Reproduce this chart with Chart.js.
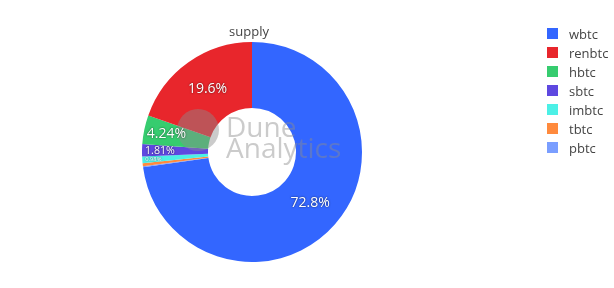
<!DOCTYPE html>
<html>
<head>
<meta charset="utf-8">
<script src="https://cdn.jsdelivr.net/npm/chart.js@4.4.0/dist/chart.umd.min.js"></script>
<style>
  html, body { margin: 0; padding: 0; background: #fff; }
  #wrap { position: relative; width: 614px; height: 288px; }
  #legend { position: absolute; left: 547px; top: 24px; font: 13px "Open Sans", sans-serif; color: #444; }
  .item { height: 19px; display: flex; align-items: center; }
  .sw { width: 11px; height: 11px; margin-right: 11px; }
</style>
</head>
<body>
<div id="wrap">
  <canvas id="chart" width="614" height="288"></canvas>
  <div id="legend"></div>
</div>
<script>
// Token supply shares (percent)
const tokens = ['wbtc', 'renbtc', 'hbtc', 'sbtc', 'imbtc', 'tbtc', 'pbtc'];
const supply = [72.8, 19.6, 4.24, 1.81, 0.98, 0.42, 0.15];
const colors = ['#3366ff', '#e8262c', '#36cc6f', '#5e48e0', '#4cf0e6', '#ff8a3d', '#7a9eff'];

// the reference runs counter-clockwise; Chart.js draws clockwise, so flip the tail
const order = [0, ...tokens.map((t, i) => i).slice(1).reverse()];

// legend
const legend = document.getElementById('legend');
tokens.forEach((t, i) => {
  legend.innerHTML += `<div class="item"><span class="sw" style="background:${colors[i]}"></span>${t}</div>`;
});

const total = supply.reduce((a, b) => a + b, 0);

const extras = {
  id: 'extras',
  afterDatasetsDraw(chart) {
    const ctx = chart.ctx;
    const arcs = chart.getDatasetMeta(0).data;
    const cx = arcs[0].x, cy = arcs[0].y;

    // title
    ctx.save();
    ctx.fillStyle = '#444';
    ctx.font = '13px "Open Sans", sans-serif';
    ctx.textAlign = 'center';
    ctx.textBaseline = 'middle';
    ctx.fillText('supply', cx - 3, 32);
    ctx.restore();

    // watermark
    ctx.save();
    ctx.globalAlpha = 0.45;
    ctx.fillStyle = '#8c8c8c';
    ctx.beginPath();
    ctx.arc(cx - 54, cy - 22, 21, 0, Math.PI * 2);
    ctx.fill();
    ctx.font = '28px "Open Sans", sans-serif';
    ctx.textBaseline = 'alphabetic';
    ctx.fillText('Dune', cx - 26, cy - 15);
    ctx.fillText('Analytics', cx - 26, cy + 6);
    ctx.restore();

    // percent labels
    arcs.forEach((arc, k) => {
      const v = supply[order[k]];
      const pct = v / total * 100;
      const txt = pct >= 10 ? pct.toFixed(1) + '%' : pct.toFixed(2) + '%';
      const span = arc.endAngle - arc.startAngle;
      const mid = (arc.startAngle + arc.endAngle) / 2;
      let size = 14;
      let r = (arc.innerRadius + arc.outerRadius) / 2;
      if (span < Math.PI / 6) {
        size = Math.min(14, span * arc.outerRadius * 0.85);
        if (size < 4) return;
        ctx.font = size + 'px "Open Sans", sans-serif';
        const tw = ctx.measureText(txt).width;
        r = arc.outerRadius - tw / 2 - 3;
      }
      ctx.save();
      ctx.font = size + 'px "Open Sans", sans-serif';
      ctx.fillStyle = '#fff';
      ctx.textAlign = 'center';
      ctx.textBaseline = 'middle';
      ctx.shadowColor = 'rgba(0,0,0,0.7)';
      ctx.shadowBlur = 2;
      ctx.fillText(txt, cx + r * Math.cos(mid), cy + r * Math.sin(mid));
      ctx.restore();
    });
  }
};

new Chart(document.getElementById('chart'), {
  type: 'doughnut',
  data: {
    labels: order.map(i => tokens[i]),
    datasets: [{
      data: order.map(i => supply[i]),
      backgroundColor: order.map(i => colors[i]),
      borderWidth: 0
    }]
  },
  options: {
    responsive: false,
    animation: false,
    cutout: '40%',
    layout: { padding: { left: 142, right: 252, top: 42, bottom: 26 } },
    plugins: {
      legend: { display: false },
      tooltip: { enabled: false }
    }
  },
  plugins: [extras]
});
</script>
</body>
</html>
